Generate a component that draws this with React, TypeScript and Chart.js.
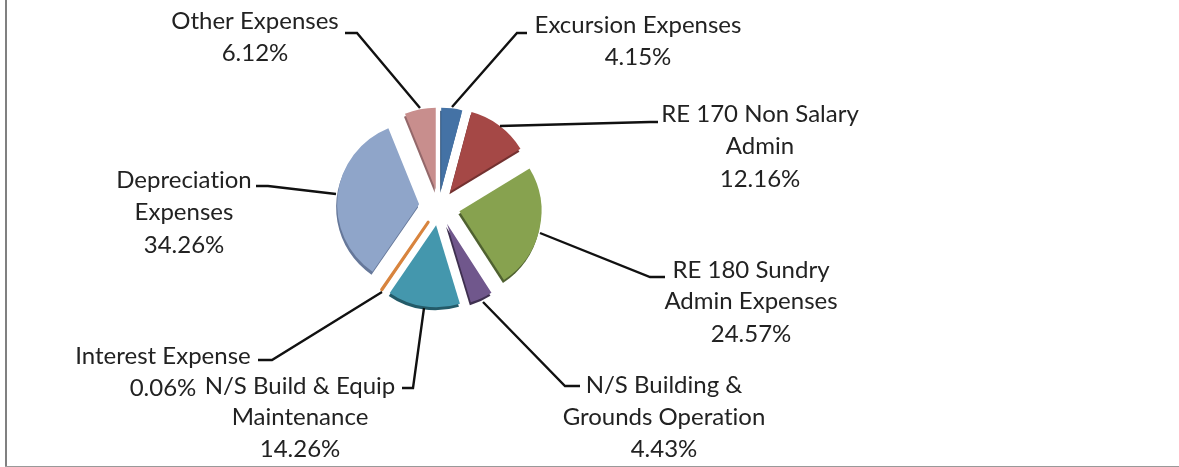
import React, { useEffect, useRef } from "react";
import { Chart, registerables } from "chart.js";

Chart.register(...registerables);

const categories = [
  "Excursion Expenses",
  "RE 170 Non Salary Admin",
  "RE 180 Sundry Admin Expenses",
  "N/S Building & Grounds Operation",
  "N/S Build & Equip Maintenance",
  "Interest Expense",
  "Depreciation Expenses",
  "Other Expenses",
];
const shareValues = [4.15, 12.16, 24.57, 4.43, 14.26, 0.06, 34.26, 6.12];
const sliceColors = ["#4472A5", "#A54846", "#87A24F", "#70578C", "#4497AD", "#D8843E", "#8FA5C9", "#C88E8D"];
const rimColors = ["#2F5078", "#733130", "#4F6130", "#3F3050", "#235A68", "#9A5C28", "#66789A", "#94686A"];
const sliceBorderWidths = [0, 0, 0, 0, 0, 3, 0, 0];
const sliceOffsets = [17, 19, 21, 19, 19, 19, 20, 17];

const labelLines = [
  ["Excursion Expenses", "4.15%"],
  ["RE 170 Non Salary", "Admin", "12.16%"],
  ["RE 180 Sundry", "Admin Expenses", "24.57%"],
  ["N/S Building &", "Grounds Operation", "4.43%"],
  ["N/S Build & Equip", "Maintenance", "14.26%"],
  ["Interest Expense", "0.06%"],
  ["Depreciation", "Expenses", "34.26%"],
  ["Other Expenses", "6.12%"],
];
const labelCenters = [638, 760, 751, 664, 300, 163, 184, 255];
const labelBaselines = [
  [25, 57],
  [114, 146, 179],
  [270, 301, 334],
  [385, 417, 449],
  [386, 417, 449],
  [356, 388],
  [180, 212, 245],
  [21, 53],
];
const leaderPaths = [
  [[452, 107], [517, 33], [527, 33]],
  [[500, 126], [650, 122], [658, 122]],
  [[540, 233], [650, 277], [665, 277]],
  [[483, 302], [565, 386], [580, 386]],
  [[424, 308], [413, 388], [402, 388]],
  [[382, 292], [272, 360], [258, 360]],
  [[336, 194], [268, 186], [256, 186]],
  [[420, 108], [357, 33], [345, 33]],
];

const explodePlugin = {
  id: "explode",
  beforeDatasetDraw(chart: any) {
    const { ctx } = chart;
    const arcs = chart.getDatasetMeta(0).data;
    arcs.forEach((arc: any, i: number) => {
      const mid = (arc.startAngle + arc.endAngle) / 2;
      const dx = Math.cos(mid) * sliceOffsets[i];
      const dy = Math.sin(mid) * sliceOffsets[i];
      const cx = arc.x + dx - 1;
      const cy = arc.y + dy + 3;
      ctx.save();
      ctx.fillStyle = rimColors[i];
      ctx.beginPath();
      ctx.moveTo(cx, cy);
      ctx.arc(cx, cy, arc.outerRadius, arc.startAngle, arc.endAngle);
      ctx.closePath();
      ctx.fill();
      ctx.restore();
      ctx.save();
      ctx.translate(dx, dy);
      arc.draw(ctx);
      ctx.restore();
    });
    return false;
  },
};

const labelPlugin = {
  id: "labels",
  afterDatasetsDraw(chart: any) {
    const { ctx } = chart;
    ctx.save();
    ctx.strokeStyle = "#111111";
    ctx.lineWidth = 2.4;
    leaderPaths.forEach((path) => {
      ctx.beginPath();
      path.forEach(([x, y], k) => (k === 0 ? ctx.moveTo(x, y) : ctx.lineTo(x, y)));
      ctx.stroke();
    });
    ctx.fillStyle = "#222222";
    ctx.font = "24px Lato";
    ctx.textRendering = "optimizeSpeed";
    ctx.textAlign = "center";
    ctx.textBaseline = "middle";
    labelLines.forEach((lines, i) => {
      lines.forEach((text, k) => ctx.fillText(text, labelCenters[i], labelBaselines[i][k]));
    });
    ctx.restore();
  },
};

export default function App() {
  const ref = useRef<HTMLCanvasElement>(null);
  useEffect(() => {
    document.body.style.margin = "0";
    const chart = new Chart(ref.current!, {
      type: "pie",
      data: {
        labels: categories,
        datasets: [
          {
            data: shareValues,
            backgroundColor: sliceColors,
            borderColor: sliceColors,
            borderWidth: sliceBorderWidths,
            borderJoinStyle: "round",
          },
        ],
      },
      options: {
        animation: false,
        responsive: false,
        radius: 82,
        layout: { padding: { left: 0, top: 0, right: 301, bottom: 54 } },
        plugins: { legend: { display: false }, tooltip: { enabled: false } },
      } as any,
      plugins: [explodePlugin, labelPlugin],
    });
    return () => chart.destroy();
  }, []);
  return (
    <div style={{ position: "relative", width: 1179, height: 467, overflow: "hidden", background: "#fff" }}>
      <canvas ref={ref} width={1179} height={467} style={{ display: "block" }} />
      <div style={{ position: "absolute", left: 5, top: 0, bottom: 0, width: 2, background: "#808080" }} />
      <div style={{ position: "absolute", left: 5, right: 0, top: 466, height: 1, background: "#999999" }} />
    </div>
  );
}
